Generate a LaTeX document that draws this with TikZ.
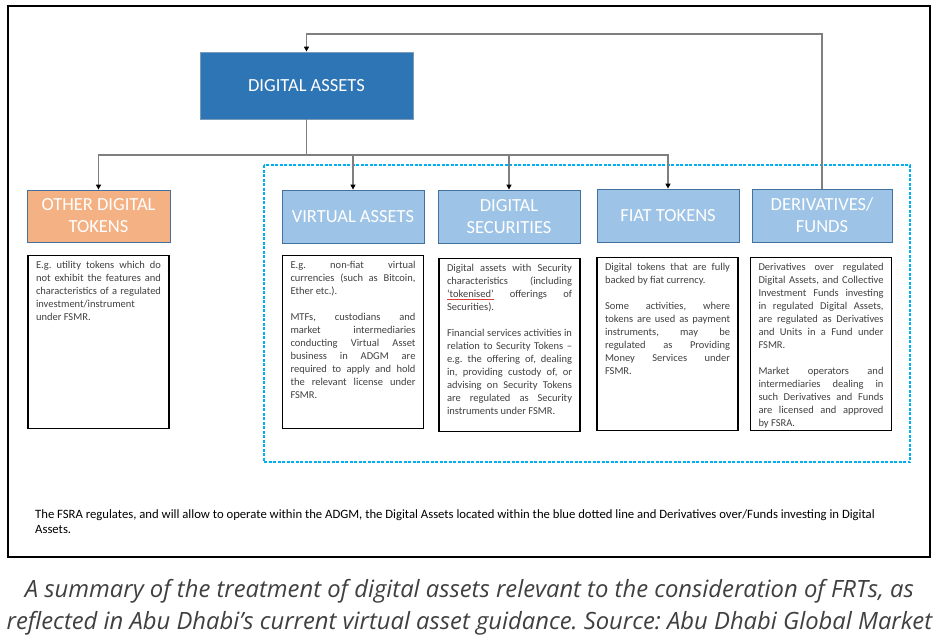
\documentclass[tikz,border=0pt]{standalone}
\usepackage{fontspec}
\setmainfont{Carlito}
\newfontfamily\capfont{Open Sans}
\usetikzlibrary{arrows.meta}
\definecolor{dablue}{HTML}{2E75B6}
\definecolor{lblue}{HTML}{9DC3E6}
\definecolor{bblue}{HTML}{41719C}
\definecolor{orng}{HTML}{F4B183}
\definecolor{cyanl}{HTML}{00B0F0}
\definecolor{congray}{HTML}{7F7F7F}
\definecolor{bodytxt}{HTML}{404040}
\definecolor{captxt}{HTML}{404040}
\definecolor{spellred}{HTML}{E03C31}
\frenchspacing
\newcommand{\redul}[1]{\leavevmode\setbox0\hbox{#1}\rlap{\textcolor{spellred}{\rule[-2pt]{\wd0}{0.6pt}}}\box0\relax}
\newcommand{\bodytext}[1]{\parbox[t][161pt][t]{125pt}{\fontsize{10.5}{13}\selectfont
  \parindent=0pt\parskip=13pt\hyphenpenalty=10000\tolerance=10000\emergencystretch=5pt
  #1}}
\tikzset{
  hdr/.style={draw=bblue, line width=0.8pt, fill=lblue, text=white, align=center,
    font=\fontsize{18.5}{22}\selectfont, minimum width=142pt, minimum height=53pt, inner sep=0pt},
  txtbox/.style={draw=black, line width=1.4pt, text=bodytxt, anchor=north,
    inner xsep=8pt, inner ysep=6pt},
  conn/.style={draw=congray, line width=1.3pt},
  arr/.style={conn, -{Triangle[length=5pt,width=5pt,color=black]}},
  capstyle/.style={anchor=base, inner sep=0pt, text=captxt, font=\capfont\itshape\fontsize{23.8}{28}\selectfont},
  footstyle/.style={anchor=base west, inner sep=0pt, text=black, font=\fontsize{12.7}{15}\selectfont},
}
\begin{document}
\begin{tikzpicture}[x=1pt,y=-1pt]
\useasboundingbox (0,0) rectangle (939,640);
\fill[white] (0,0) rectangle (939,640);
% outer frame
\draw[line width=2.6pt, black] (8,6) rectangle (930,557);
% dashed zone
\draw[cyanl, line width=1.2pt, dash pattern=on 3pt off 1.5pt] (264,165) rectangle (910,462);
% headers
\node[draw=bblue!70, line width=0.8pt, fill=dablue, text=white, font=\fontsize{18.5}{22}\selectfont,
  minimum width=213pt, minimum height=67pt, inner sep=0pt] (da) at (306.5,85.5) {DIGITAL ASSETS};
\node[hdr, fill=orng, minimum width=143pt, minimum height=52pt] (odt) at (98.5,216) {OTHER DIGITAL\\TOKENS};
\node[hdr] (va) at (353,216.5) {VIRTUAL ASSETS};
\node[hdr] (ds) at (509,216.5) {DIGITAL\\SECURITIES};
\node[hdr] (ft) at (668,215.5) {FIAT TOKENS};
\node[hdr, minimum width=140pt] (der) at (822,215.5) {DERIVATIVES/\\FUNDS};
% text boxes
\node[txtbox] (odtt) at (98.5,255) {\bodytext{E.g. utility tokens which do\linebreak
not exhibit the features and\linebreak characteristics of a regulated\linebreak
investment/instrument\\ under FSMR.}};
\node[txtbox] (vat) at (353,255) {\bodytext{E.g. non-fiat virtual\linebreak
currencies (such as Bitcoin,\linebreak Ether etc.).\par
MTFs, custodians and\linebreak market intermediaries\linebreak conducting Virtual Asset\linebreak
business in ADGM are\linebreak required to apply and hold\linebreak the relevant license under\linebreak FSMR.}};
\node[txtbox] (dst) at (509.5,258) {\bodytext{Digital assets with Security\linebreak
characteristics (including\linebreak \redul{‘tokenised’} offerings of\linebreak Securities).\par
Financial services activities in\linebreak relation to Security Tokens –\linebreak
e.g. the offering of, dealing\linebreak in, providing custody of, or\linebreak
advising on Security Tokens\linebreak are regulated as Security\linebreak instruments under FSMR.}};
\node[txtbox] (ftt) at (667.5,257) {\bodytext{Digital tokens that are fully\linebreak
backed by fiat currency.\par
Some activities, where\linebreak tokens are used as payment\linebreak instruments, may be\linebreak
regulated as Providing\linebreak Money Services under\linebreak FSMR.}};
\node[txtbox] (dert) at (821,257) {\bodytext{Derivatives over regulated\linebreak
Digital Assets, and Collective\linebreak Investment Funds investing\linebreak
in regulated Digital Assets,\linebreak are regulated as Derivatives\linebreak
and Units in a Fund under\linebreak FSMR.\par
Market operators and\linebreak intermediaries dealing in\linebreak
such Derivatives and Funds\linebreak are licensed and approved\linebreak by FSRA.}};
% connectors
\coordinate (bus) at (306.5,155);
\coordinate (fb) at (306.5,34);
\draw[conn] (da.south) -- (bus);
\draw[arr] (bus) -| (odt.north);
\draw[arr] (bus) -| (va.north);
\draw[arr] (bus) -| (ds.north);
\draw[arr] (bus) -| (ft.north);
\draw[arr] (der.north) |- (fb) -- (da.north);
% footer
\node[footstyle] (foot1) at (35,518)
  {The FSRA regulates, and will allow to operate within the ADGM, the Digital Assets located within the blue dotted line and Derivatives over/Funds investing in Digital};
\node[footstyle] (foot2) at (35,533) {Assets.};
% caption
\node[capstyle] (cap1) at (469.5,597)
  {A summary of the treatment of digital assets relevant to the consideration of FRTs, as};
\node[capstyle] (cap2) at (469.5,629)
  {reflected in Abu Dhabi’s current virtual asset guidance. Source: Abu Dhabi Global Market};
\end{tikzpicture}
\end{document}
